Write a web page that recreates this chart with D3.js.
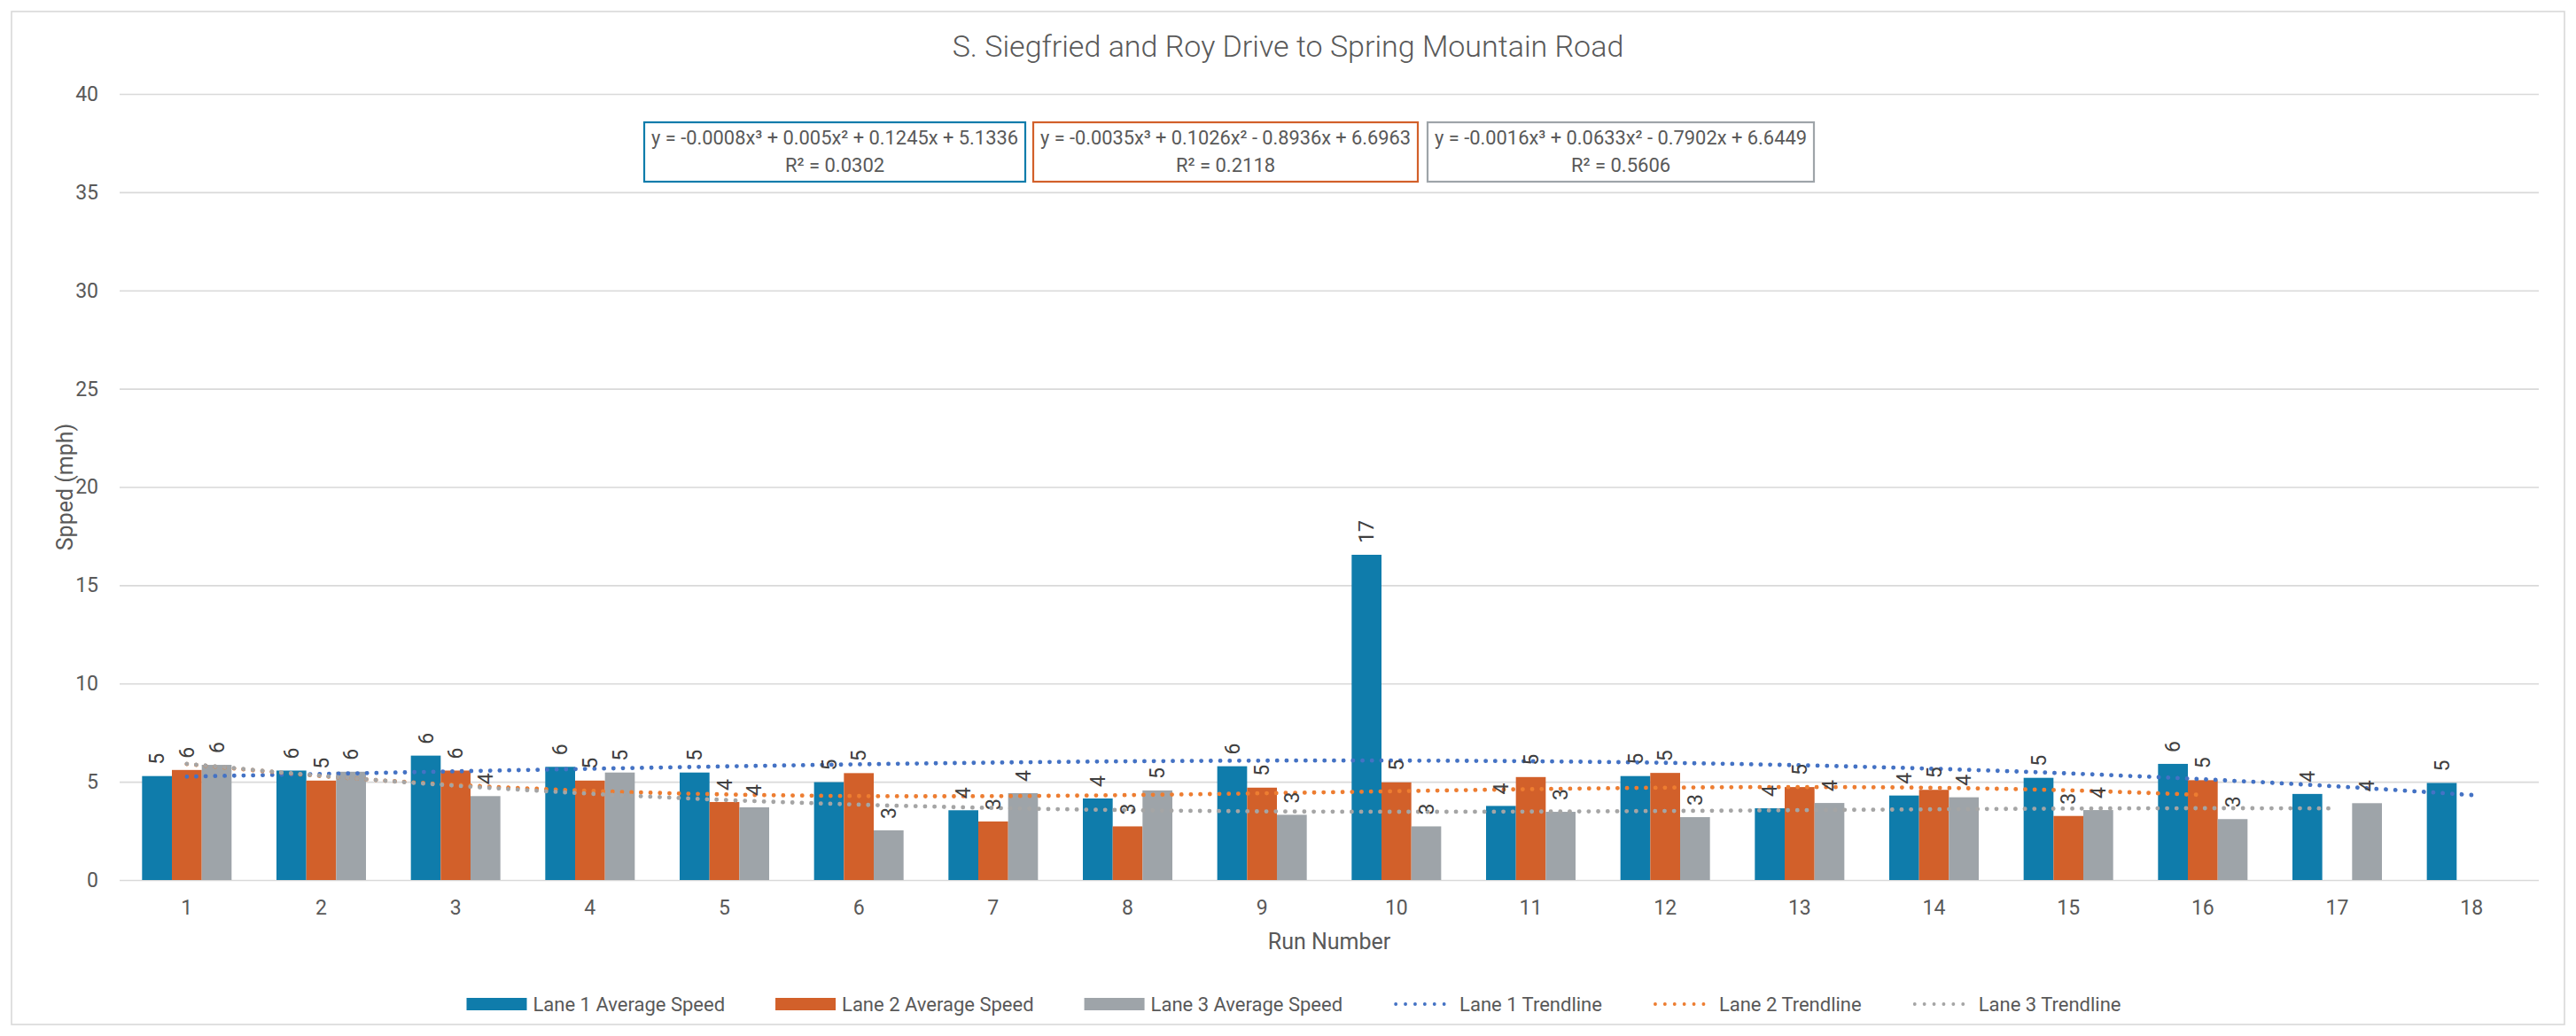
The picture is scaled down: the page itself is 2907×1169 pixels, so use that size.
<!DOCTYPE html>
<html>
<head>
<meta charset="utf-8">
<title>S. Siegfried and Roy Drive to Spring Mountain Road</title>
<script src="https://cdn.jsdelivr.net/npm/d3@7"></script>
<style>
    body { margin: 0; background: #fff; }
    svg text { font-family: Roboto, 'Noto Sans', sans-serif; fill: #595959; }
</style>
</head>
<body>
<div id="chart"></div>
<script>
'use strict';

// run numbers on the category axis
const runs = ['1', '2', '3', '4', '5', '6', '7', '8', '9', '10', '11', '12', '13', '14', '15', '16', '17', '18'];
const lanes = ['Lane 1', 'Lane 2', 'Lane 3'];

// average speed (mph) per run
const lane1Speed = [5.29, 5.57, 6.33, 5.76, 5.47, 4.98, 3.55, 4.15, 5.79, 16.55, 3.77, 5.29, 3.65, 4.30, 5.20, 5.91, 4.38, 4.94];
const lane2Speed = [5.60, 5.06, 5.57, 5.06, 3.97, 5.44, 2.98, 2.73, 4.70, 4.97, 5.24, 5.45, 4.73, 4.59, 3.26, 5.08, null, null];
const lane3Speed = [5.86, 5.51, 4.27, 5.47, 3.70, 2.53, 4.42, 4.56, 3.32, 2.73, 3.47, 3.20, 3.92, 4.21, 3.56, 3.10, 3.91, null];

// polynomial trendlines (x^3, x^2, x, const) and R² as printed on the chart
const lane1Trend = [-0.0008, 0.005, 0.1245, 5.1336];
const lane2Trend = [-0.0035, 0.1026, -0.8936, 6.6963];
const lane3Trend = [-0.0016, 0.0633, -0.7902, 6.6449];
const trendR2 = [0.0302, 0.2118, 0.5606];

const yTicks = [0, 5, 10, 15, 20, 25, 30, 35, 40];

const speeds = [lane1Speed, lane2Speed, lane3Speed];
const trends = [lane1Trend, lane2Trend, lane3Trend];

const width = 2907,
    height = 1169,
    plotLeft = 135,
    plotRight = 2865,
    plotTop = 106,
    plotBottom = 993;

const barColors = ['#0F7CAB', '#D2602A', '#9EA4A9'];
const trendColors = ['#4472C4', '#ED7D31', '#A5A5A5'];
const gridColor = '#D9D9D9';

const svg = d3.select('#chart').append('svg')
    .attr('width', width)
    .attr('height', height)
    .attr('viewBox', '0 0 ' + width + ' ' + height);

// chart area border
svg.append('rect')
    .attr('x', 13)
    .attr('y', 13)
    .attr('width', width - 26)
    .attr('height', height - 26)
    .attr('fill', '#fff')
    .attr('stroke', gridColor)
    .attr('stroke-width', 1.6);

const x0 = d3.scaleBand()
    .domain(runs)
    .range([plotLeft, plotRight])
    .paddingInner(0.334)
    .paddingOuter(0.167);

const x1 = d3.scaleBand()
    .domain(lanes)
    .range([0, x0.bandwidth()]);

const y = d3.scaleLinear()
    .domain([0, 40])
    .range([plotBottom, plotTop]);

// y axis + gridlines
svg.append('g')
    .attr('transform', 'translate(' + plotLeft + ',0)')
    .call(d3.axisLeft(y).tickValues(yTicks).tickSize(-(plotRight - plotLeft)).tickPadding(24))
    .call((g) => g.select('.domain').remove())
    .call((g) => g.selectAll('.tick line').attr('stroke', gridColor).attr('stroke-width', 1.6))
    .call((g) => g.selectAll('.tick text').attr('font-size', 23).attr('fill', '#595959'));

// x axis labels
svg.append('g')
    .attr('transform', 'translate(0,' + plotBottom + ')')
    .call(d3.axisBottom(x0).tickSize(0).tickPadding(23))
    .call((g) => g.select('.domain').remove())
    .call((g) => g.selectAll('.tick text').attr('font-size', 23).attr('fill', '#595959'));

// bars
const barData = [];
lanes.forEach((lane, i) => {
    runs.forEach((run, j) => {
        if (speeds[i][j] != null) barData.push({run: run, lane: lane, i: i, v: speeds[i][j]});
    });
});

svg.append('g').selectAll('rect')
    .data(barData)
    .enter().append('rect')
    .attr('x', (d) => x0(d.run) + x1(d.lane))
    .attr('y', (d) => y(d.v))
    .attr('width', x1.bandwidth())
    .attr('height', (d) => y(0) - y(d.v))
    .attr('fill', (d) => barColors[d.i]);

// trendlines, drawn at each run of the series
const poly = (c, x) => c[0] * x * x * x + c[1] * x * x + c[2] * x + c[3];
const xc = (run) => x0(run) + x0.bandwidth() / 2;

const line = d3.line()
    .x((d) => xc(d.run))
    .y((d) => y(d.v))
    .curve(d3.curveCatmullRom);

trends.forEach((c, i) => {
    const n = speeds[i].filter((v) => v != null).length;
    const pts = runs.slice(0, n).map((run) => ({run: run, v: poly(c, +run)}));
    svg.append('path')
        .datum(pts)
        .attr('d', line)
        .attr('fill', 'none')
        .attr('stroke', trendColors[i])
        .attr('stroke-width', 4.8)
        .attr('stroke-linecap', 'round')
        .attr('stroke-dasharray', '0.1 10.6');
});

// data labels (rotated)
svg.append('g').selectAll('text')
    .data(barData)
    .enter().append('text')
    .attr('transform', (d) => 'translate(' + (x0(d.run) + x1(d.lane) + x1.bandwidth() / 2) + ',' + (y(d.v) - 13) + ') rotate(-90)')
    .attr('dy', '0.35em')
    .attr('font-size', 23)
    .style('fill', '#404040')
    .text((d) => d3.format('.0f')(d.v));

// trendline equation boxes
const fmtTerm = (v, first) => first ? String(v) : (v < 0 ? ' - ' + String(-v) : ' + ' + String(v));
const boxX = [727, 1166, 1611],
    boxW = [430, 434, 436];

trends.forEach((c, i) => {
    const g = svg.append('g').attr('transform', 'translate(' + boxX[i] + ',138)');
    g.append('rect')
        .attr('width', boxW[i])
        .attr('height', 67)
        .attr('fill', '#fff')
        .attr('stroke', barColors[i])
        .attr('stroke-width', 2.2);
    const eq = 'y = ' + fmtTerm(c[0], true) + 'x³' + fmtTerm(c[1]) + 'x²' + fmtTerm(c[2]) + 'x' + fmtTerm(c[3]);
    g.append('text')
        .attr('x', boxW[i] / 2)
        .attr('y', 25)
        .attr('text-anchor', 'middle')
        .attr('font-size', 22)
        .attr('textLength', boxW[i] - 16)
        .attr('lengthAdjust', 'spacingAndGlyphs')
        .text(eq);
    g.append('text')
        .attr('x', boxW[i] / 2)
        .attr('y', 56)
        .attr('text-anchor', 'middle')
        .attr('font-size', 22)
        .text('R² = ' + trendR2[i]);
});

// titles
svg.append('text')
    .attr('x', width / 2)
    .attr('y', 64)
    .attr('text-anchor', 'middle')
    .attr('font-size', 34)
    .attr('font-weight', 300)
    .text('S. Siegfried and Roy Drive to Spring Mountain Road');

svg.append('text')
    .attr('x', (plotLeft + plotRight) / 2)
    .attr('y', 1071)
    .attr('text-anchor', 'middle')
    .attr('font-size', 25)
    .text('Run Number');

svg.append('text')
    .attr('transform', 'translate(82,' + (plotTop + plotBottom) / 2 + ') rotate(-90)')
    .attr('text-anchor', 'middle')
    .attr('font-size', 25)
    .text('Spped (mph)');

// legend
const legendItems = [
    {label: 'Lane 1 Average Speed', type: 'bar', color: barColors[0]},
    {label: 'Lane 2 Average Speed', type: 'bar', color: barColors[1]},
    {label: 'Lane 3 Average Speed', type: 'bar', color: barColors[2]},
    {label: 'Lane 1 Trendline', type: 'line', color: trendColors[0]},
    {label: 'Lane 2 Trendline', type: 'line', color: trendColors[1]},
    {label: 'Lane 3 Trendline', type: 'line', color: trendColors[2]},
];

const legend = svg.append('g');
let lx = 0;
legendItems.forEach((it) => {
    const g = legend.append('g').attr('transform', 'translate(' + lx + ',0)');
    if (it.type === 'bar') {
        g.append('rect')
            .attr('y', -7)
            .attr('width', 68)
            .attr('height', 14)
            .attr('fill', it.color);
    } else {
        g.append('line')
            .attr('x1', 3)
            .attr('x2', 68)
            .attr('stroke', it.color)
            .attr('stroke-width', 3.8)
            .attr('stroke-linecap', 'round')
            .attr('stroke-dasharray', '0.1 10.8');
    }
    const t = g.append('text')
        .attr('x', 75)
        .attr('dy', '0.35em')
        .attr('font-size', 22)
        .text(it.label);
    lx += 75 + t.node().getComputedTextLength() + 57;
});
legend.attr('transform', 'translate(' + (1460 - (lx - 57) / 2) + ',1133)');
</script>
</body>
</html>
